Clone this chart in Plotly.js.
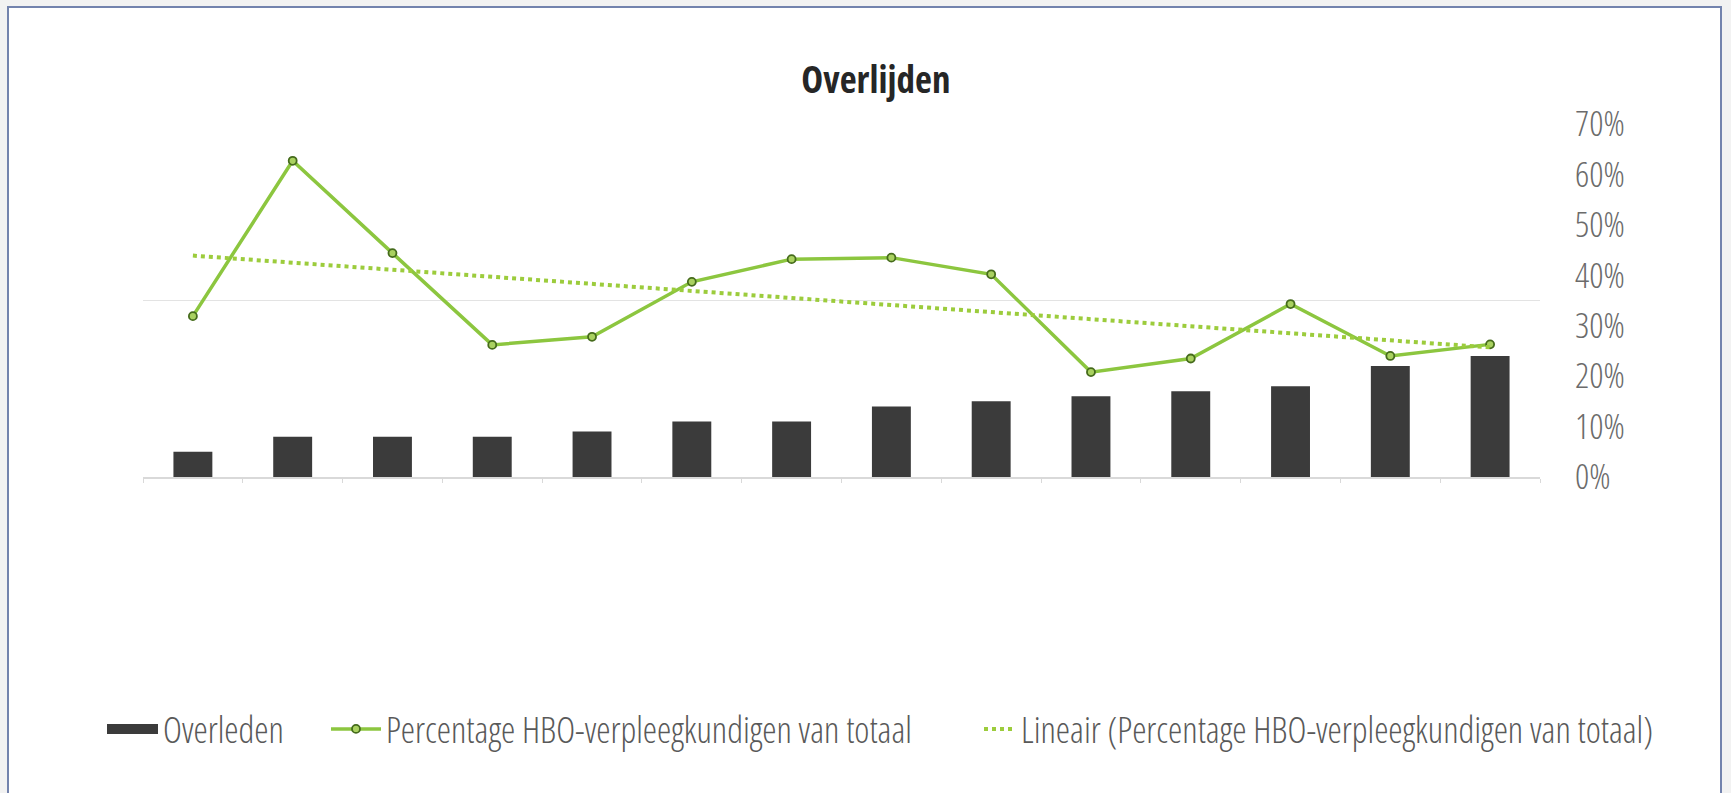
<!DOCTYPE html>
<html>
<head>
<meta charset="utf-8">
<script src="https://cdn.plot.ly/plotly-3.0.1.min.js"></script>
<style>
  html, body { margin: 0; padding: 0; width: 1731px; height: 793px; overflow: hidden; background: #f2f2f2; }
  #frame { position: absolute; left: 7px; top: 6px; width: 1715px; height: 800px; border: 2px solid #7383ad; background: #ffffff; box-sizing: border-box; }
  #chart { position: absolute; left: 0; top: 0; width: 1731px; height: 793px; }
  #chart text { font-stretch: 75% !important; }
</style>
</head>
<body>
<div id="frame"></div>
<div id="chart"></div>
<script>
// ---- data ----
const categories = ["1", "2", "3", "4", "5", "6", "7", "8", "9", "10", "11", "12", "13", "14"];
const overleden = [5, 8, 8, 8, 9, 11, 11, 14, 15, 16, 17, 18, 22, 24];
const percentageHBO = [31.9, 62.7, 44.4, 26.2, 27.8, 38.7, 43.2, 43.5, 40.2, 20.8, 23.5, 34.3, 24.0, 26.3];
const trendCategories = ["1", "14"];
const trendValues = [43.9, 25.7];
const percentTicks = [0, 10, 20, 30, 40, 50, 60, 70];
const percentTickLabels = ["0%", "10%", "20%", "30%", "40%", "50%", "60%", "70%"];
const seriesNames = ["Overleden", "Percentage HBO-verpleegkundigen van totaal", "Lineair (Percentage HBO-verpleegkundigen van totaal)"];

const FONT = '"Open Sans", "DejaVu Sans", sans-serif';
const BAR_COLOR = '#3b3b3b';
const LEGEND_FONT = { family: FONT, size: 36, weight: 300, color: '#595959' };

const traces = [
  {
    type: 'bar',
    name: seriesNames[0],
    legendgroup: 'overleden',
    showlegend: false,
    x: categories,
    y: overleden,
    yaxis: 'y',
    marker: { color: BAR_COLOR },
    hoverinfo: 'skip'
  },
  // legend swatch for the bars (wide rectangle as in the original)
  {
    type: 'scatter',
    mode: 'lines',
    name: seriesNames[0],
    legendgroup: 'overleden',
    legend: 'legend',
    showlegend: true,
    x: [null],
    y: [null],
    yaxis: 'y',
    line: { color: BAR_COLOR, width: 22 },
    hoverinfo: 'skip'
  },
  {
    type: 'scatter',
    mode: 'lines+markers',
    name: seriesNames[1],
    legend: 'legend2',
    x: categories,
    y: percentageHBO,
    yaxis: 'y2',
    line: { color: '#8cc63f', width: 3.5 },
    marker: { symbol: 'circle', size: 8, color: '#a9d160', line: { color: '#456b1c', width: 1.8 } },
    hoverinfo: 'skip'
  },
  {
    type: 'scatter',
    mode: 'lines',
    name: seriesNames[2],
    legend: 'legend3',
    x: trendCategories,
    y: trendValues,
    yaxis: 'y2',
    line: { color: '#9ccc3c', width: 4, dash: 'dot' },
    hoverinfo: 'skip'
  }
];

function legendAt(xpx, itemwidth) {
  return {
    orientation: 'h',
    xref: 'container', yref: 'container',
    x: xpx / 1731, xanchor: 'left',
    y: 1 - 729 / 793, yanchor: 'middle',
    font: LEGEND_FONT,
    bgcolor: 'rgba(0,0,0,0)',
    borderwidth: 0,
    itemwidth: itemwidth
  };
}

const layout = {
  width: 1731,
  height: 793,
  paper_bgcolor: 'rgba(0,0,0,0)',
  plot_bgcolor: 'rgba(0,0,0,0)',
  margin: { l: 143, r: 191, t: 124, b: 316, autoexpand: false },
  showlegend: true,
  bargap: 0.61,
  title: {
    text: '<b>Overlijden</b>',
    font: { family: FONT, size: 37, color: '#262626' },
    x: 0.506, xref: 'container', xanchor: 'center',
    y: 0.899, yref: 'container', yanchor: 'middle'
  },
  xaxis: {
    type: 'category',
    categoryorder: 'array',
    categoryarray: categories,
    range: [-0.5, categories.length - 0.5],
    autorange: false,
    showticklabels: false,
    showgrid: false,
    showline: true,
    linecolor: '#d9d9d9',
    linewidth: 1.5,
    ticks: 'outside',
    tickson: 'boundaries',
    ticklen: 4,
    tickcolor: '#d9d9d9',
    zeroline: false,
    fixedrange: true
  },
  yaxis: {
    range: [0, 70],
    dtick: 35,
    showticklabels: false,
    showgrid: true,
    gridcolor: '#e3e3e3',
    gridwidth: 1.5,
    zeroline: false,
    showline: false,
    ticks: '',
    fixedrange: true
  },
  yaxis2: {
    overlaying: 'y',
    side: 'right',
    range: [0, 70],
    tickvals: percentTicks,
    ticktext: percentTickLabels,
    showgrid: false,
    zeroline: false,
    showline: false,
    ticks: '',
    ticklabelstandoff: 34,
    tickfont: { family: FONT, size: 35, weight: 300, color: '#6b6b6b' },
    fixedrange: true
  },
  legend: legendAt(102, 51),
  legend2: legendAt(326, 50),
  legend3: legendAt(979, 32)
};

Plotly.newPlot('chart', traces, layout, { displayModeBar: false, staticPlot: true });
</script>
</body>
</html>
